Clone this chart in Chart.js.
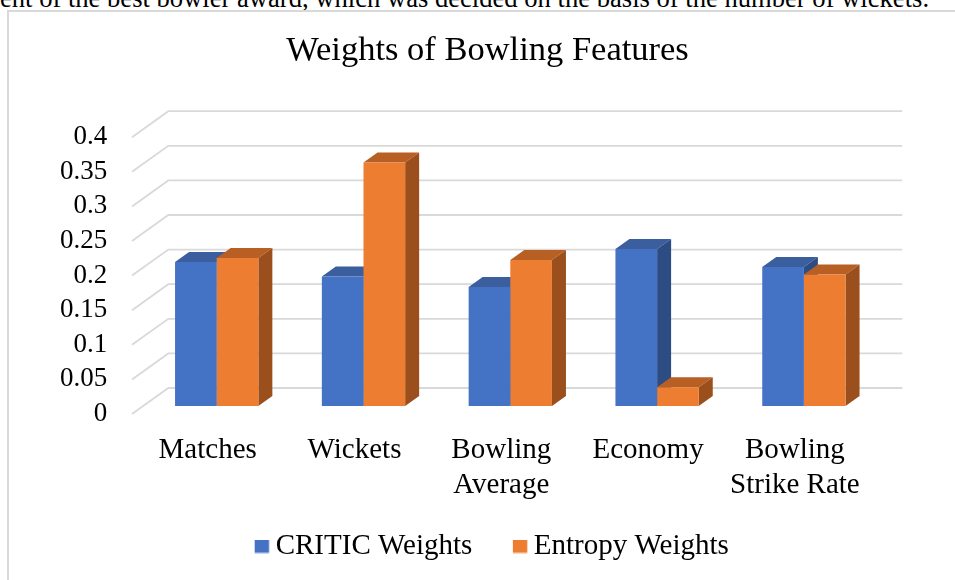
<!DOCTYPE html>
<html><head><meta charset="utf-8">
<script src="https://cdn.jsdelivr.net/npm/chart.js@4.4.0/dist/chart.umd.min.js"></script>
<style>
html,body{margin:0;padding:0;background:#fff;overflow:hidden;}
#wrap{position:relative;width:955px;height:580px;overflow:hidden;background:#fff;}
#frame{position:absolute;left:7px;top:10px;width:1000px;height:640px;border:2px solid #d9d9d9;box-sizing:border-box;}
#para{position:absolute;left:0;top:-15px;font-family:"Liberation Serif",serif;font-size:26.6px;line-height:1;white-space:nowrap;color:#000;}
canvas{position:absolute;left:0;top:0;}
</style></head><body>
<div id="wrap">
<div id="para">ent of the best bowler award, which was decided on the basis of the number of wickets.</div>
<div id="frame"></div>
<canvas id="c" width="955" height="580"></canvas>
</div>
<script>
const titleText = 'Weights of Bowling Features';
const categories = ['Matches', 'Wickets', ['Bowling', 'Average'], 'Economy', ['Bowling', 'Strike Rate']];
const seriesNames = ['CRITIC Weights', 'Entropy Weights'];
const criticWeights = [0.208, 0.187, 0.172, 0.227, 0.201];
const entropyWeights = [0.214, 0.352, 0.211, 0.027, 0.190];
const yTickValues = [0, 0.05, 0.1, 0.15, 0.2, 0.25, 0.3, 0.35, 0.4];
const yTickLabels = ['0', '0.05', '0.1', '0.15', '0.2', '0.25', '0.3', '0.35', '0.4'];

const FONT = '"Liberation Serif", "Times New Roman", serif';
const colors = {
  front: ['#4472C4', '#ED7D31'],
  top: ['#3A5E9E', '#B85F24'],
  side: ['#2D4C83', '#9A4F1D']
};
// 3D geometry (pixels)
const EDGE_DX = -11.3, EDGE_DY = 8;   // front edge of floor relative to bar faces
const WALL_DX = 36.3, WALL_DY = 26;   // depth of the plot box
const BAR_DX = 14, BAR_DY = 10;       // depth of each bar

function swatch(color) {
  const c = document.createElement('canvas');
  c.width = 40; c.height = 14;
  const g = c.getContext('2d');
  g.fillStyle = color;
  g.fillRect(21, 0, 14.4, 13.3);
  return c;
}

const depth3d = {
  id: 'depth3d',
  beforeDatasetsDraw(chart) {
    const {ctx, chartArea: a, scales: {y}} = chart;
    ctx.save();
    ctx.strokeStyle = '#d9d9d9';
    ctx.lineWidth = 1.8;
    y.ticks.forEach(t => {
      const py = y.getPixelForValue(t.value);
      const fx = a.left + EDGE_DX, fy = py + EDGE_DY;
      const bx = fx + WALL_DX, by = fy - WALL_DY;
      ctx.beginPath();
      ctx.moveTo(fx, fy);
      ctx.lineTo(bx, by);
      ctx.lineTo(a.right + EDGE_DX + WALL_DX, by);
      ctx.stroke();
    });
    const n = chart.data.labels.length;
    const nd = chart.data.datasets.length;
    for (let j = 0; j < n; j++) {
      for (let i = 0; i < nd; i++) {
        const el = chart.getDatasetMeta(i).data[j];
        const xl = el.x - el.width / 2, xr = el.x + el.width / 2;
        const yt = el.y, yb = el.base;
        ctx.fillStyle = colors.top[i];
        ctx.beginPath();
        ctx.moveTo(xl, yt);
        ctx.lineTo(xl + BAR_DX, yt - BAR_DY);
        ctx.lineTo(xr + BAR_DX, yt - BAR_DY);
        ctx.lineTo(xr, yt);
        ctx.closePath();
        ctx.fill();
        ctx.fillStyle = colors.side[i];
        ctx.beginPath();
        ctx.moveTo(xr, yt);
        ctx.lineTo(xr + BAR_DX, yt - BAR_DY);
        ctx.lineTo(xr + BAR_DX, yb - BAR_DY);
        ctx.lineTo(xr, yb);
        ctx.closePath();
        ctx.fill();
      }
    }
    ctx.restore();
  }
};

function build() {
  new Chart(document.getElementById('c'), {
    type: 'bar',
    data: {
      labels: categories,
      datasets: [
        {label: seriesNames[0], data: criticWeights, backgroundColor: colors.front[0], borderWidth: 0},
        {label: seriesNames[1], data: entropyWeights, backgroundColor: colors.front[1], borderWidth: 0}
      ]
    },
    options: {
      responsive: false,
      animation: false,
      devicePixelRatio: 1,
      layout: {padding: {left: 20, right: 0, top: 0, bottom: 9}},
      datasets: {bar: {categoryPercentage: 0.5675, barPercentage: 1}},
      scales: {
        x: {
          grid: {display: false, drawTicks: false},
          border: {display: false},
          ticks: {font: {family: FONT, size: 29, lineHeight: 1.2}, color: '#000', padding: 27, labelOffset: -9, maxRotation: 0, autoSkip: false},
          afterFit: s => { s.height = 94; }
        },
        y: {
          min: 0, max: 0.4,
          grid: {display: false, drawTicks: false},
          border: {display: false},
          afterBuildTicks: s => { s.ticks = yTickValues.map(v => ({value: v})); },
          ticks: {
            font: {family: FONT, size: 27}, color: '#000', padding: 36, labelOffset: 8,
            autoSkip: false,
            callback: (v, i) => yTickLabels[i]
          },
          afterFit: s => { s.width = 123.3; }
        },
        y2: {
          position: 'right',
          grid: {display: false, drawTicks: false},
          border: {display: false},
          ticks: {display: false},
          afterFit: s => { s.width = 77.7; }
        }
      },
      plugins: {
        tooltip: {enabled: false},
        title: {
          display: true, text: titleText, color: '#000',
          font: {family: FONT, size: 34.5, weight: 'normal', lineHeight: 1.2},
          padding: {top: 30.5, bottom: 57.3}
        },
        legend: {
          position: 'bottom',
          labels: {
            usePointStyle: true, pointStyleWidth: 15, padding: 32, color: '#000',
            font: {family: FONT, size: 29},
            generateLabels: chart => chart.data.datasets.map((ds, i) => ({
              text: ds.label, fillStyle: ds.backgroundColor, strokeStyle: ds.backgroundColor,
              lineWidth: 0, pointStyle: swatch(ds.backgroundColor), hidden: false, datasetIndex: i, fontColor: '#000'
            }))
          }
        }
      }
    },
    plugins: [depth3d]
  });
}
if (document.fonts && document.fonts.load) {
  Promise.all([document.fonts.load('29px "Liberation Serif"')]).then(build, build);
} else { build(); }
</script>
</body></html>
